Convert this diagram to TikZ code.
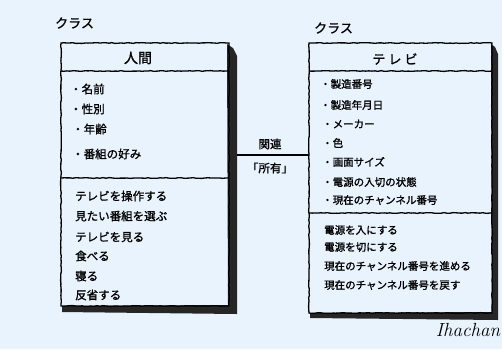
\documentclass[tikz,border=0pt]{standalone}
\usepackage{fontspec}
\newfontfamily\jp[FakeBold=1.2]{Noto Sans CJK JP}
\usetikzlibrary{decorations.pathmorphing}
\definecolor{bg}{RGB}{232,243,254}
\begin{document}
\begin{tikzpicture}[x=1pt,y=-1pt,
  sketch/.style={draw=black,line width=1.3pt,decorate,decoration={random steps,segment length=3pt,amplitude=0.4pt}},
  shadow/.style={fill=black!85,draw=none},
  lbl/.style={font=\jp\fontsize{11.5}{13}\selectfont,anchor=west,inner sep=0pt},
  rlbl/.style={font=\jp\fontsize{10.5}{12}\selectfont,anchor=west,inner sep=0pt},
  ttl/.style={font=\jp\fontsize{13}{15}\selectfont,inner sep=0pt}]
\useasboundingbox (0,0) rectangle (502,349);
\fill[bg] (0,0) rectangle (502,349);

% ---- left class: 人間
\fill[shadow] (227,44) -- (233,48) -- (237,56) -- (237,314) -- (62,312) -- (62,306) -- (228,305) -- cycle;
\draw[sketch] (61,43) rectangle (229,306);
\draw[sketch] (61,71) -- (229,71);
\draw[sketch] (61,178) -- (229,178);
\node[ttl,anchor=west] (lk) at (55,23) {クラス};
\node[ttl,font=\jp\fontsize{14}{16}\selectfont] (lh) at (138,58) {人間};
\node[lbl] (la1) at (70,89) {・名前};
\node[lbl] (la2) at (70,109) {・性別};
\node[lbl] (la3) at (72,129) {・年齢};
\node[lbl] (la4) at (72,154) {・番組の好み};
\node[lbl] (lm1) at (75,196) {テレビを操作する};
\node[lbl] (lm2) at (75,216) {見たい番組を選ぶ};
\node[lbl] (lm3) at (75,237) {テレビを見る};
\node[lbl] (lm4) at (75,256) {食べる};
\node[lbl] (lm5) at (75,276) {寝る};
\node[lbl] (lm6) at (75,295) {反省する};

% ---- right class: テレビ
\fill[shadow] (491,44) -- (495,47) -- (498,54) -- (498,320) -- (310,318) -- (310,313) -- (492,312) -- cycle;
\draw[sketch] (309,43) rectangle (492,313);
\draw[sketch] (309,71) -- (492,71);
\draw[sketch] (309,213) -- (492,213);
\node[ttl,anchor=west] (rk) at (314,28) {クラス};
\node[ttl] (rh) at (395,59) {テ\hspace{3pt}レ\hspace{3pt}ビ};
\node[rlbl] (ra1) at (320,84) {・製造番号};
\node[rlbl] (ra2) at (320,105) {・製造年月日};
\node[rlbl] (ra3) at (322,124) {・メーカー};
\node[rlbl] (ra4) at (322,143) {・色};
\node[rlbl] (ra5) at (322,162) {・画面サイズ};
\node[rlbl] (ra6) at (322,182) {・電源の入切の状態};
\node[rlbl] (ra7) at (322,200) {・現在のチャンネル番号};
\node[rlbl] (rm1) at (324,230) {電源を入にする};
\node[rlbl] (rm2) at (324,247) {電源を切にする};
\node[rlbl] (rm3) at (324,266) {現在のチャンネル番号を進める};
\node[rlbl] (rm4) at (324,285) {現在のチャンネル番号を戻す};

% ---- association
\coordinate (aL) at (237,155);
\coordinate (aR) at (309,155);
\draw[line width=1.3pt] (aL) -- (aR);
\node[ttl,font=\jp\fontsize{11.5}{13}\selectfont] (rel) at (270,144) {関連};
\node[ttl,font=\jp\fontsize{11.5}{13}\selectfont] (own) at (270,168) {「所有」};

% ---- signature
\node[font=\rmfamily\itshape\fontsize{19}{20}\selectfont,inner sep=0pt] (sg) at (468,330) {Ihachan};
\end{tikzpicture}
\end{document}
